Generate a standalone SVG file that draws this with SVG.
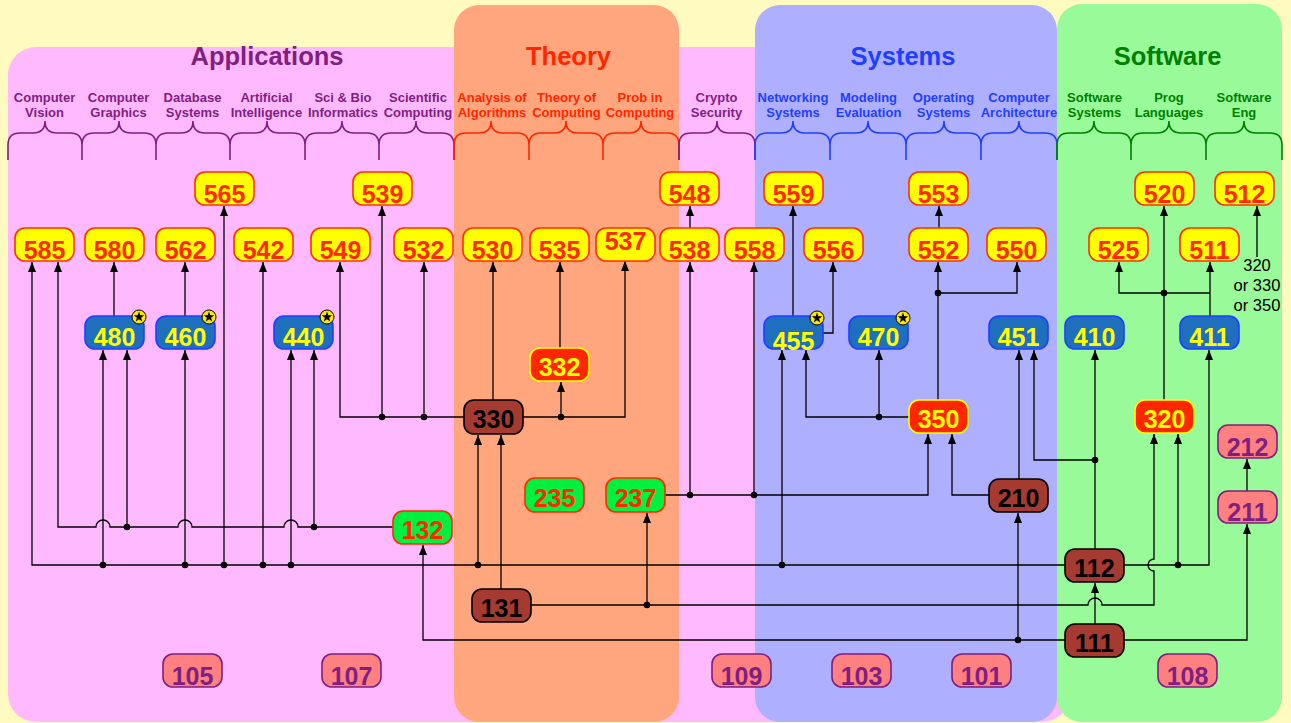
<svg xmlns="http://www.w3.org/2000/svg" width="1291" height="723" viewBox="0 0 1291 723">
<style>
text{font-family:"Liberation Sans",Arial,sans-serif;font-weight:bold;text-anchor:middle}
.title{font-size:25.5px}
.sub{font-size:13px}
.brace{fill:none;stroke-width:1.6}
.node rect{stroke-width:1.6}
.node text{font-size:25px}
.y rect{fill:#FFFF00;stroke:#FF3000}.y text{fill:#FF2A00}
.b rect{fill:#1F6FBF;stroke:#1F3FFF}.b text{fill:#FFFF00}
.r rect{fill:#FF2600;stroke:#FFFF00}.r text{fill:#FFFF00}
.k rect{fill:#A53A30;stroke:#000}.k text{fill:#000}
.g rect{fill:#00F040;stroke:#FF2A00}.g text{fill:#FF2A00}
.p rect{fill:#FF8080;stroke:#7F1F7F}.p text{fill:#7F1F7F}
#conn path{fill:none;stroke:#000;stroke-width:1.3}
#conn path.a{marker-end:url(#arr)}
#conn circle{fill:#000}
.note{font-size:16.5px;font-weight:normal;fill:#000}
</style>
<defs>
<marker id="arr" markerUnits="userSpaceOnUse" markerWidth="11" markerHeight="8" refX="10" refY="4" orient="auto"><path d="M0,0 L10,4 L0,8 z" fill="#000"/></marker>
<g id="star"><circle r="7" fill="#FFE800" stroke="#000" stroke-width="1"/><polygon points="0,-5.5 1.3,-1.8 5.2,-1.7 2.1,0.7 3.2,4.4 0,2.2 -3.2,4.4 -2.1,0.7 -5.2,-1.7 -1.3,-1.8" fill="#000"/></g>
</defs>
<rect width="1291" height="723" fill="#FFFAC0"/>
<g id="regions">
<rect x="8" y="47" width="1062" height="675" rx="28" fill="#FFB9FF"/>
<rect x="454" y="5" width="225" height="717" rx="25" fill="#FFA67E"/>
<rect x="755" y="5" width="302" height="717" rx="25" fill="#AFAFFF"/>
<rect x="1057" y="4" width="225" height="718" rx="25" fill="#98FA98"/>
</g>
<g id="titles">
<text class="title" x="267" y="65" fill="#7F1F7F">Applications</text>
<text class="title" x="568.5" y="65" fill="#FF2600">Theory</text>
<text class="title" x="903" y="65" fill="#1F3FFF">Systems</text>
<text class="title" x="1167.5" y="65" fill="#007F00">Software</text>
</g>
<g id="subheads">
<g fill="#7F1F7F">
<text class="sub" x="44.5" y="102">Computer</text><text class="sub" x="44.5" y="117">Vision</text>
<text class="sub" x="118.5" y="102">Computer</text><text class="sub" x="118.5" y="117">Graphics</text>
<text class="sub" x="192.5" y="102">Database</text><text class="sub" x="192.5" y="117">Systems</text>
<text class="sub" x="266.5" y="102">Artificial</text><text class="sub" x="266.5" y="117">Intelligence</text>
<text class="sub" x="343" y="102">Sci &amp; Bio</text><text class="sub" x="343" y="117">Informatics</text>
<text class="sub" x="418" y="102">Scientific</text><text class="sub" x="418" y="117">Computing</text>
<text class="sub" x="716.5" y="102">Crypto</text><text class="sub" x="716.5" y="117">Security</text>
</g>
<g fill="#FF2600">
<text class="sub" x="492" y="102">Analysis of</text><text class="sub" x="492" y="117">Algorithms</text>
<text class="sub" x="566.5" y="102">Theory of</text><text class="sub" x="566.5" y="117">Computing</text>
<text class="sub" x="640" y="102">Prob in</text><text class="sub" x="640" y="117">Computing</text>
</g>
<g fill="#1F3FFF">
<text class="sub" x="793" y="102">Networking</text><text class="sub" x="793" y="117">Systems</text>
<text class="sub" x="868.5" y="102">Modeling</text><text class="sub" x="868.5" y="117">Evaluation</text>
<text class="sub" x="943.5" y="102">Operating</text><text class="sub" x="943.5" y="117">Systems</text>
<text class="sub" x="1019" y="102">Computer</text><text class="sub" x="1019" y="117">Architecture</text>
</g>
<g fill="#007F00">
<text class="sub" x="1094.5" y="102">Software</text><text class="sub" x="1094.5" y="117">Systems</text>
<text class="sub" x="1169" y="102">Prog</text><text class="sub" x="1169" y="117">Languages</text>
<text class="sub" x="1244" y="102">Software</text><text class="sub" x="1244" y="117">Eng</text>
</g>
</g>
<g id="braces">
<path class="brace" stroke="#7F1F7F" d="M8,160V145Q8,133 20,133H33Q45,133 45,121Q45,133 57,133H70Q82,133 82,145V160M82,145Q82,133 94,133H107Q119,133 119,121Q119,133 131,133H144Q156,133 156,145V160M156,145Q156,133 168,133H181Q193,133 193,121Q193,133 205,133H218Q230,133 230,145V160M230,145Q230,133 242,133H255Q267,133 267,121Q267,133 279,133H293Q305,133 305,145V160M305,145Q305,133 317,133H330Q342,133 342,121Q342,133 354,133H367Q379,133 379,145V160M379,145Q379,133 391,133H404Q416,133 416,121Q416,133 428,133H442Q454,133 454,145V160"/>
<path class="brace" stroke="#FF2600" d="M454,160V145Q454,133 466,133H479Q491,133 491,121Q491,133 503,133H517Q529,133 529,145V160M529,145Q529,133 541,133H554Q566,133 566,121Q566,133 578,133H591Q603,133 603,145V160M603,145Q603,133 615,133H629Q641,133 641,121Q641,133 653,133H667Q679,133 679,145V160"/>
<path class="brace" stroke="#7F1F7F" d="M679,160V145Q679,133 691,133H705Q717,133 717,121Q717,133 729,133H743Q755,133 755,145V160"/>
<path class="brace" stroke="#1F3FFF" d="M755,160V145Q755,133 767,133H781Q793,133 793,121Q793,133 805,133H818Q830,133 830,145V160M830,145Q830,133 842,133H856Q868,133 868,121Q868,133 880,133H894Q906,133 906,145V160M906,145Q906,133 918,133H932Q944,133 944,121Q944,133 956,133H969Q981,133 981,145V160M981,145Q981,133 993,133H1007Q1019,133 1019,121Q1019,133 1031,133H1045Q1057,133 1057,145V160"/>
<path class="brace" stroke="#007F00" d="M1057,160V145Q1057,133 1069,133H1082Q1094,133 1094,121Q1094,133 1106,133H1119Q1131,133 1131,145V160M1131,145Q1131,133 1143,133H1157Q1169,133 1169,121Q1169,133 1181,133H1194Q1206,133 1206,145V160M1206,145Q1206,133 1218,133H1232Q1244,133 1244,121Q1244,133 1256,133H1270Q1282,133 1282,145V160"/>
</g>
<g id="conn">
<path class="a" d="M1065,565H32V262"/>
<path class="a" d="M103,565V350"/>
<path class="a" d="M185,565V350"/>
<path class="a" d="M224,565V206"/>
<path class="a" d="M263,565V262"/>
<path class="a" d="M291,565V350"/>
<path class="a" d="M478,565V435"/>
<path class="a" d="M782,565V350"/>
<circle cx="103" cy="565" r="3.3"/><circle cx="185" cy="565" r="3.3"/><circle cx="224" cy="565" r="3.3"/><circle cx="263" cy="565" r="3.3"/><circle cx="291" cy="565" r="3.3"/><circle cx="478" cy="565" r="3.3"/><circle cx="782" cy="565" r="3.3"/>
<path class="a" d="M1124,565H1209V350"/>
<path class="a" d="M1178,565V434"/>
<circle cx="1178" cy="565" r="3.3"/>
<path class="a" d="M1095,549V350"/>
<path class="a" d="M1095,460H1034V350"/>
<circle cx="1095" cy="460" r="3.3"/>
<path class="a" d="M1095,624V583"/>
<path class="a" d="M1065,640H423V545"/>
<path class="a" d="M1018,640V513"/>
<circle cx="1018" cy="640" r="3.3"/>
<path class="a" d="M1124,640H1247V524"/>
<path class="a" d="M501,589V435"/>
<path class="a" d="M531,605H1088A7,7 0 0 1 1102,605H1154V571A6,6 0 0 1 1154,559V434"/>
<path class="a" d="M647,605V513"/>
<circle cx="647" cy="605" r="3.3"/>
<path class="a" d="M393,527H298A7,7 0 0 0 284,527H192A7,7 0 0 0 178,527H110A7,7 0 0 0 96,527H58V262"/>
<path class="a" d="M314,527V350"/>
<path class="a" d="M127,527V350"/>
<circle cx="314" cy="527" r="3.3"/><circle cx="127" cy="527" r="3.3"/>
<path class="a" d="M464,417H340V262"/>
<path class="a" d="M382,417V206"/>
<path class="a" d="M424,417V262"/>
<circle cx="382" cy="417" r="3.3"/><circle cx="424" cy="417" r="3.3"/>
<path class="a" d="M493,400V262"/>
<path class="a" d="M523,417H625V261"/>
<path class="a" d="M561,417V382"/>
<circle cx="561" cy="417" r="3.3"/>
<path class="a" d="M560,348V262"/>
<path class="a" d="M665,495H928V434"/>
<path class="a" d="M690,495V262"/>
<path class="a" d="M754,495V262"/>
<circle cx="690" cy="495" r="3.3"/><circle cx="754" cy="495" r="3.3"/>
<path class="a" d="M989,495H952V434"/>
<path class="a" d="M1019,479V350"/>
<path class="a" d="M909,417H806V350"/>
<path class="a" d="M879,417V350"/>
<circle cx="879" cy="417" r="3.3"/>
<path class="a" d="M938,400V262"/>
<path class="a" d="M938,293H1017V262"/>
<circle cx="938" cy="293" r="3.3"/>
<path class="a" d="M939,228V206"/>
<path class="a" d="M690,228V206"/>
<path class="a" d="M793,316V206"/>
<path class="a" d="M823,333H833V262"/>
<path class="a" d="M114,316V262"/>
<path class="a" d="M185,316V262"/>
<path class="a" d="M1164,400V206"/>
<path class="a" d="M1164,293H1119V262"/>
<path d="M1164,293H1210"/>
<path class="a" d="M1210,316V262"/>
<circle cx="1164" cy="293" r="3.3"/>
<path class="a" d="M1257,257V206"/>
<path class="a" d="M1247,491V459"/>
</g>
<g id="note">
<text class="note" x="1257" y="271">320</text>
<text class="note" x="1257" y="291">or 330</text>
<text class="note" x="1257" y="311">or 350</text>
</g>
<g id="nodes">
<g id="n565" class="node y"><rect x="195" y="172" width="59" height="33" rx="10"/><text x="224.5" y="202.5">565</text></g>
<g id="n539" class="node y"><rect x="353" y="172" width="59" height="33" rx="10"/><text x="382.5" y="202.5">539</text></g>
<g id="n548" class="node y"><rect x="660" y="172" width="59" height="33" rx="10"/><text x="689.5" y="202.5">548</text></g>
<g id="n559" class="node y"><rect x="764" y="172" width="59" height="33" rx="10"/><text x="793.5" y="202.5">559</text></g>
<g id="n553" class="node y"><rect x="909" y="172" width="59" height="33" rx="10"/><text x="938.5" y="202.5">553</text></g>
<g id="n520" class="node y"><rect x="1135" y="172" width="59" height="33" rx="10"/><text x="1164.5" y="202.5">520</text></g>
<g id="n512" class="node y"><rect x="1215" y="172" width="59" height="33" rx="10"/><text x="1244.5" y="202.5">512</text></g>
<g id="n585" class="node y"><rect x="15" y="228" width="59" height="33" rx="10"/><text x="44.5" y="258.5">585</text></g>
<g id="n580" class="node y"><rect x="85" y="228" width="59" height="33" rx="10"/><text x="114.5" y="258.5">580</text></g>
<g id="n562" class="node y"><rect x="156" y="228" width="59" height="33" rx="10"/><text x="185.5" y="258.5">562</text></g>
<g id="n542" class="node y"><rect x="234" y="228" width="59" height="33" rx="10"/><text x="263.5" y="258.5">542</text></g>
<g id="n549" class="node y"><rect x="311" y="228" width="59" height="33" rx="10"/><text x="340.5" y="258.5">549</text></g>
<g id="n532" class="node y"><rect x="394" y="228" width="59" height="33" rx="10"/><text x="423.5" y="258.5">532</text></g>
<g id="n530" class="node y"><rect x="463" y="228" width="59" height="33" rx="10"/><text x="492.5" y="258.5">530</text></g>
<g id="n535" class="node y"><rect x="530" y="228" width="59" height="33" rx="10"/><text x="559.5" y="258.5">535</text></g>
<g id="n537" class="node y"><rect x="596" y="228" width="59" height="33" rx="10"/><text x="625.5" y="250">537</text></g>
<g id="n538" class="node y"><rect x="660" y="228" width="59" height="33" rx="10"/><text x="689.5" y="258.5">538</text></g>
<g id="n558" class="node y"><rect x="725" y="228" width="59" height="33" rx="10"/><text x="754.5" y="258.5">558</text></g>
<g id="n556" class="node y"><rect x="804" y="228" width="59" height="33" rx="10"/><text x="833.5" y="258.5">556</text></g>
<g id="n552" class="node y"><rect x="909" y="228" width="59" height="33" rx="10"/><text x="938.5" y="258.5">552</text></g>
<g id="n550" class="node y"><rect x="987" y="228" width="59" height="33" rx="10"/><text x="1016.5" y="258.5">550</text></g>
<g id="n525" class="node y"><rect x="1089" y="228" width="59" height="33" rx="10"/><text x="1118.5" y="258.5">525</text></g>
<g id="n511" class="node y"><rect x="1180" y="228" width="59" height="33" rx="10"/><text x="1209.5" y="258.5">511</text></g>
<g id="n480" class="node b"><rect x="85" y="316" width="59" height="33" rx="10"/><text x="114.5" y="346">480</text><use href="#star" x="139" y="317"/></g>
<g id="n460" class="node b"><rect x="156" y="316" width="59" height="33" rx="10"/><text x="185.5" y="346">460</text><use href="#star" x="209" y="317"/></g>
<g id="n440" class="node b"><rect x="274" y="316" width="59" height="33" rx="10"/><text x="303.5" y="346">440</text><use href="#star" x="327" y="317"/></g>
<g id="n455" class="node b"><rect x="764" y="316" width="59" height="33" rx="10"/><text x="793.5" y="350">455</text><use href="#star" x="817" y="318"/></g>
<g id="n470" class="node b"><rect x="849" y="316" width="59" height="33" rx="10"/><text x="878.5" y="346">470</text><use href="#star" x="903" y="318"/></g>
<g id="n451" class="node b"><rect x="989" y="316" width="59" height="33" rx="10"/><text x="1018.5" y="346">451</text></g>
<g id="n410" class="node b"><rect x="1065" y="316" width="59" height="33" rx="10"/><text x="1094.5" y="346">410</text></g>
<g id="n411" class="node b"><rect x="1180" y="316" width="59" height="33" rx="10"/><text x="1209.5" y="346">411</text></g>
<g id="n332" class="node r"><rect x="530" y="348" width="59" height="33" rx="10"/><text x="559.5" y="376">332</text></g>
<g id="n330" class="node k"><rect x="464" y="400" width="59" height="34" rx="10"/><text x="493.5" y="428">330</text></g>
<g id="n350" class="node r"><rect x="909" y="400" width="59" height="33" rx="10"/><text x="938.5" y="427.5">350</text></g>
<g id="n320" class="node r"><rect x="1135" y="400" width="59" height="33" rx="10"/><text x="1164.5" y="427.5">320</text></g>
<g id="n212" class="node p"><rect x="1218" y="425" width="59" height="33" rx="10"/><text x="1247.5" y="456">212</text></g>
<g id="n235" class="node g"><rect x="525" y="478" width="59" height="34" rx="10"/><text x="554.5" y="507">235</text></g>
<g id="n237" class="node g"><rect x="606" y="478" width="59" height="34" rx="10"/><text x="635.5" y="507">237</text></g>
<g id="n210" class="node k"><rect x="989" y="479" width="59" height="33" rx="10"/><text x="1018.5" y="507">210</text></g>
<g id="n211" class="node p"><rect x="1218" y="491" width="59" height="32" rx="10"/><text x="1247.5" y="521">211</text></g>
<g id="n132" class="node g"><rect x="393" y="511" width="59" height="33" rx="10"/><text x="422.5" y="538.5">132</text></g>
<g id="n112" class="node k"><rect x="1065" y="549" width="59" height="33" rx="10"/><text x="1094.5" y="576.5">112</text></g>
<g id="n131" class="node k"><rect x="472" y="589" width="59" height="33" rx="10"/><text x="501.5" y="616.5">131</text></g>
<g id="n111" class="node k"><rect x="1065" y="624" width="59" height="33" rx="10"/><text x="1094.5" y="652">111</text></g>
<g id="n105" class="node p"><rect x="163" y="654" width="59" height="33" rx="10"/><text x="192.5" y="685">105</text></g>
<g id="n107" class="node p"><rect x="322" y="654" width="59" height="33" rx="10"/><text x="351.5" y="685">107</text></g>
<g id="n109" class="node p"><rect x="712" y="654" width="59" height="33" rx="10"/><text x="741.5" y="685">109</text></g>
<g id="n103" class="node p"><rect x="832" y="654" width="59" height="33" rx="10"/><text x="861.5" y="685">103</text></g>
<g id="n101" class="node p"><rect x="952" y="654" width="59" height="33" rx="10"/><text x="981.5" y="685">101</text></g>
<g id="n108" class="node p"><rect x="1158" y="654" width="59" height="33" rx="10"/><text x="1187.5" y="685">108</text></g>
</g>
</svg>
